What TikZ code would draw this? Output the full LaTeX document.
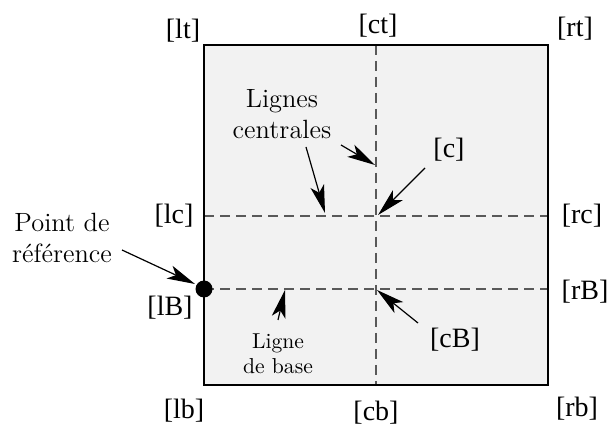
\documentclass[tikz,border=0pt]{standalone}
\usepackage{fontspec}
\newfontfamily\tms{Liberation Serif}
\usetikzlibrary{arrows.meta}
\begin{document}
\begin{tikzpicture}[x=0.5pt,y=-0.5pt,
  lbl/.style={font=\tms\fontsize{14}{16}\selectfont, inner sep=0pt},
  note/.style={font=\fontsize{13.2}{15.5}\selectfont, align=center, inner sep=0pt},
  small/.style={font=\fontsize{10.8}{12.5}\selectfont, align=center, inner sep=0pt},
  guide/.style={dash pattern=on 5pt off 3pt, draw=black!65, line width=0.7pt},
  ptr/.style={-{Stealth[length=14pt,width=7pt,inset=3.5pt]}, line width=0.6pt},
  frame/.style={line width=1.3pt, draw=black}]
\useasboundingbox (0,0) rectangle (609,426);
% box
\coordinate (tl) at (204,45);
\coordinate (br) at (548,385);
\fill[black!5] (tl) rectangle (br);
% guide lines
\coordinate (vt) at (376,45);
\coordinate (vb) at (376,385);
\coordinate (cl) at (204,216);
\coordinate (cr) at (548,216);
\coordinate (bl) at (204,289);
\coordinate (brr) at (548,289);
\draw[guide] (vt) -- (vb);
\draw[guide] (cl) -- (cr);
\draw[guide] (bl) -- (brr);
\draw[frame] (tl) rectangle (br);
% reference point
\node[circle, fill=black, inner sep=0pt, minimum size=8.5pt] (dot) at (204,289) {};
% bracket labels
\node[lbl] (lt) at (183,31) {[lt]};
\node[lbl] (ct) at (378,26) {[ct]};
\node[lbl] (rt) at (575,29) {[rt]};
\node[lbl] (lc) at (174,216) {[lc]};
\node[lbl] (rc) at (582,216) {[rc]};
\node[lbl] (lB) at (170,308) {[lB]};
\node[lbl] (rB) at (585,292) {[rB]};
\node[lbl] (lb) at (184,411) {[lb]};
\node[lbl] (cb) at (376,413) {[cb]};
\node[lbl] (rb) at (577,409) {[rb]};
\node[lbl] (c) at (449,150) {[c]};
\node[lbl] (cB) at (455,340) {[cB]};
% notes
\node[note] (ref) at (62,238) {Point de\\référence};
\node[note] (cent) at (282,114) {Lignes\\centrales};
\node[small] (base) at (278,354) {Ligne\\de base};
% arrows
\coordinate (a1s) at (122,250);
\coordinate (a1e) at (195,284);
\coordinate (a2s) at (306,147);
\coordinate (a2e) at (325,213);
\coordinate (a3s) at (341,145);
\coordinate (a3e) at (375,165);
\coordinate (a4s) at (425,168);
\coordinate (a4e) at (378,215);
\coordinate (a5s) at (278,320);
\coordinate (a5e) at (285,290);
\coordinate (a6s) at (418,323);
\coordinate (a6e) at (377,290);
\draw[ptr] (a1s) -- (a1e);
\draw[ptr] (a2s) -- (a2e);
\draw[ptr] (a3s) -- (a3e);
\draw[ptr] (a4s) -- (a4e);
\draw[ptr] (a5s) -- (a5e);
\draw[ptr] (a6s) -- (a6e);
\end{tikzpicture}
\end{document}
